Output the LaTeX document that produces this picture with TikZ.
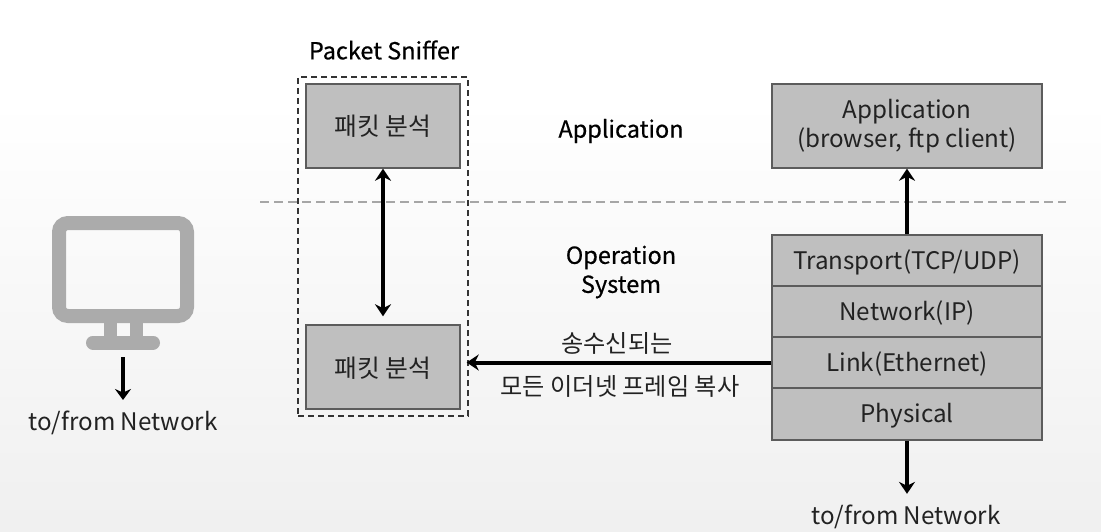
\documentclass[tikz,border=0pt]{standalone}
\usepackage{fontspec}
\setmainfont{Noto Sans CJK KR}
\newfontfamily\heavier[FakeBold=0.5]{Noto Sans CJK KR}
\usepackage{xcolor}
\usetikzlibrary{arrows.meta}
\definecolor{boxfill}{HTML}{BFBFBF}
\definecolor{boxline}{HTML}{5C5C5C}
\definecolor{monitorgray}{HTML}{ABABAB}
\definecolor{inkgray}{HTML}{222222}
\tikzset{
  labeltext/.style={font=\fontsize{24.2}{29}\selectfont,text=inkgray,align=center,inner sep=0pt,yshift=-2pt},
  headtext/.style={labeltext,font=\fontsize{23.5}{29}\heavier\selectfont,text=black},
  graybox/.style={draw=boxline,fill=boxfill,line width=1.4pt,minimum width=270pt,font=\fontsize{24.2}{29}\selectfont,text=inkgray,align=center,inner sep=0pt},
  oneline/.style={graybox,text height=20pt,text depth=3pt},
  sniffbox/.style={graybox,font=\fontsize{24.8}{29}\selectfont,text height=20pt,text depth=0pt,minimum width=154pt,minimum height=84pt},
  fatarrow/.style={line width=4pt,-{Stealth[length=12pt,width=16pt]},black},
}
\begin{document}
\begin{tikzpicture}[x=1pt,y=-1pt]
\useasboundingbox (0,0) rectangle (1101,532);
\fill[white] (0,0) rectangle (1101,100);
\shade[top color=white,bottom color=black!6] (0,100) rectangle (1101,532);
% layer boundary
\draw[black!35,line width=1.4pt,dash pattern=on 9pt off 5pt] (260,202) -- (1066,202);
% monitor
\draw[monitorgray,line width=14pt,rounded corners=9pt] (59,223) rectangle (187,316);
\fill[monitorgray] (104,323) rectangle (117,337);
\fill[monitorgray] (130,323) rectangle (143,337);
\draw[monitorgray,line width=14pt,line cap=round] (93,342.5) -- (153,342.5);
\coordinate (monitorout) at (123,357);
\node[labeltext] (hostnet) at (123,421) {to/from Network};
\draw[line width=3.5pt,-{Stealth[length=11pt,width=16pt]},black] (monitorout) -- (123,400);
% packet sniffer
\node[draw=black!80,line width=1.4pt,dash pattern=on 6pt off 4pt,minimum width=170pt,minimum height=339pt] (frame) at (383,246.5) {};
\node[headtext] (sniffer) at (384,48) {Packet Sniffer};
\node[sniffbox] (sniffup) at (383,126) {패킷 분석};
\node[sniffbox] (sniffdown) at (383,367) {패킷 분석};
\draw[line width=3.5pt,{Stealth[length=12pt,width=16pt]}-{Stealth[length=12pt,width=16pt]},black,shorten >=8pt] (sniffup) -- (sniffdown);
% layer names
\node[headtext] (applayer) at (621,129) {Application};
\node[headtext] (oslayer) at (621,270) {Operation\\System};
% protocol stack
\node[graybox,minimum height=84pt] (app) at (907,126) {\rule{0pt}{20pt}Application\\(browser, ftp client)};
\node[oneline,minimum height=51pt] (transport) at (907,260.5) {Transport(TCP/UDP)};
\node[oneline,minimum height=51pt] (network) at (907,311.5) {Network(IP)};
\node[oneline,minimum height=51pt] (link) at (907,362.5) {Link(Ethernet)};
\node[oneline,minimum height=52pt] (physical) at (907,414) {Physical};
\node[labeltext] (stacknet) at (906,515) {to/from Network};
\draw[fatarrow] (transport) -- (app);
\draw[fatarrow,shorten >=11pt] (physical) -- (stacknet.north -| physical);
\draw[fatarrow,shorten >=-2pt] (link.west) -- (frame.east |- link.west);
\node[labeltext] (copyup) at (617,341) {송수신되는};
\node[labeltext] (copydown) at (620,384) {모든 이더넷 프레임 복사};
\end{tikzpicture}
\end{document}
